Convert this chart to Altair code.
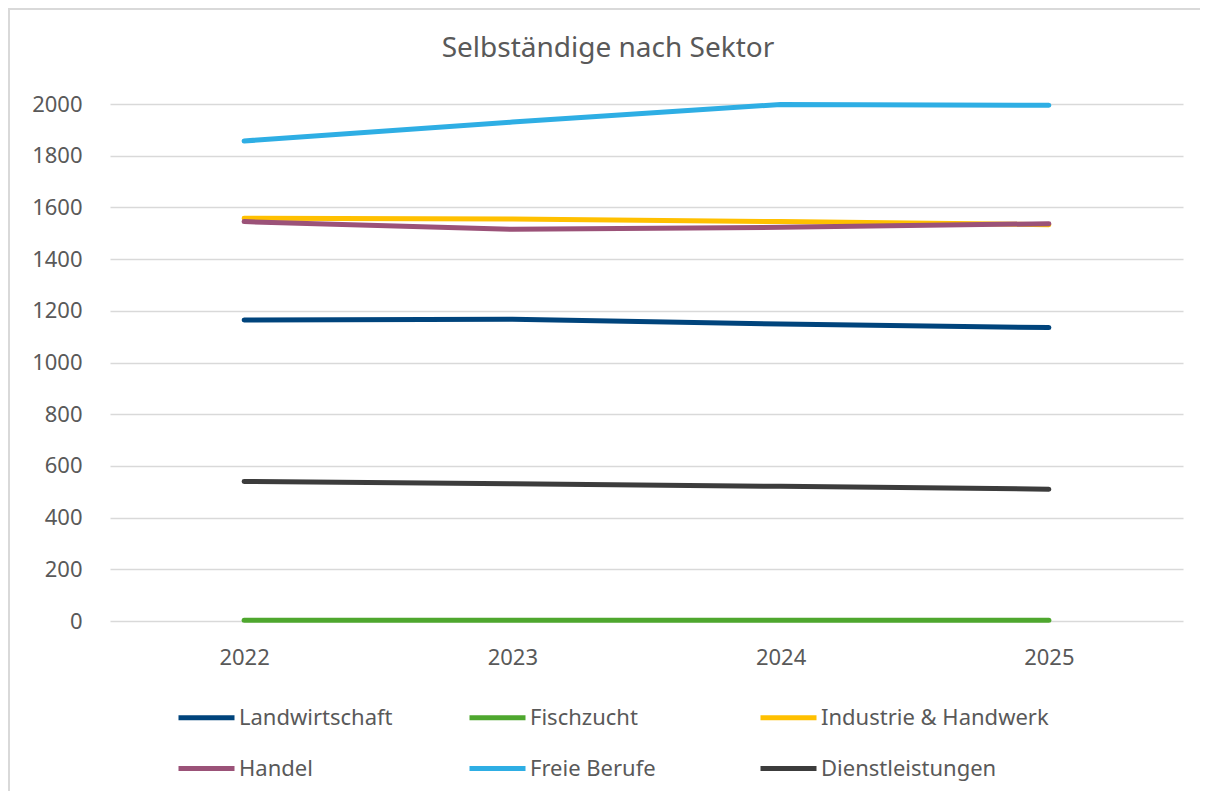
import altair as alt
import pandas as pd

years = ["2022", "2023", "2024", "2025"]
series_names = ["Landwirtschaft", "Fischzucht", "Industrie & Handwerk",
                "Handel", "Freie Berufe", "Dienstleistungen"]
landwirtschaft = [1164, 1167, 1149, 1135]
fischzucht = [3, 3, 3, 3]
industrie = [1558, 1555, 1545, 1533]
handel = [1545, 1515, 1523, 1537]
freie_berufe = [1857, 1930, 1998, 1995]
dienstleistungen = [540, 531, 521, 510]
colors = ["#00447C", "#4EA72E", "#FFC000", "#9B5278", "#2EAEE4", "#3C3C3C"]
y_ticks = [0, 200, 400, 600, 800, 1000, 1200, 1400, 1600, 1800, 2000]
title_text = "Selbständige nach Sektor"

all_values = [landwirtschaft, fischzucht, industrie, handel, freie_berufe, dienstleistungen]
rows = []
for i, (name, vals) in enumerate(zip(series_names, all_values)):
    for yr, v in zip(years, vals):
        rows.append({"Jahr": yr, "Wert": v, "Sektor": name, "order": i})
df = pd.DataFrame(rows)

FONT = "Noto Sans"
TXT = "#595959"

lines = alt.Chart(df).mark_line(strokeWidth=5, strokeCap="round", strokeJoin="round").encode(
    x=alt.X("Jahr:O", scale=alt.Scale(type="point", padding=0.5), sort=years,
            axis=alt.Axis(title=None, labelAngle=0, domain=False, ticks=False,
                          labelPadding=26, labelFontSize=22, labelFont=FONT,
                          labelColor=TXT, grid=False)),
    y=alt.Y("Wert:Q", scale=alt.Scale(domain=[0, 2000], nice=False),
            axis=alt.Axis(title=None, values=y_ticks, format="d", domain=False, ticks=False,
                          labelPadding=28, labelFontSize=22, labelFont=FONT,
                          labelColor=TXT, gridColor="#D9D9D9", gridWidth=1.5)),
    color=alt.Color("Sektor:N", scale=alt.Scale(domain=series_names, range=colors),
                    sort=series_names,
                    legend=alt.Legend(title=None, orient="none", legendX=66, legendY=583,
                                      direction="horizontal",
                                      columns=3, gridAlign="all", columnPadding=-8,
                                      rowPadding=9, symbolType="stroke",
                                      symbolSize=3136, symbolStrokeWidth=5,
                                      labelOffset=2, labelFontSize=22, labelFont=FONT,
                                      labelColor=TXT, labelLimit=400, padding=0)),
    order=alt.Order("order:Q"),
    detail="Sektor:N",
)

border = alt.Chart(alt.Data(values=[{"a": 1}])).mark_rect(
    fill=None, stroke="#D9D9D9", strokeWidth=2
).encode(x=alt.value(-101), y=alt.value(-95), x2=alt.value(1200), y2=alt.value(800))

title = alt.Chart(alt.Data(values=[{"t": title_text}])).mark_text(
    font=FONT, fontSize=28, color=TXT, align="center", baseline="alphabetic"
).encode(text="t:N", x=alt.value(498), y=alt.value(-47))

chart = alt.layer(border, title, lines).properties(
    width=1073, height=517,
    autosize=alt.AutoSizeParams(type="none"),
    padding={"left": 102, "top": 96, "right": 17, "bottom": 170},
).configure_view(stroke=None)

chart.save("out.html", embed_options={"renderer": "svg", "actions": False})
